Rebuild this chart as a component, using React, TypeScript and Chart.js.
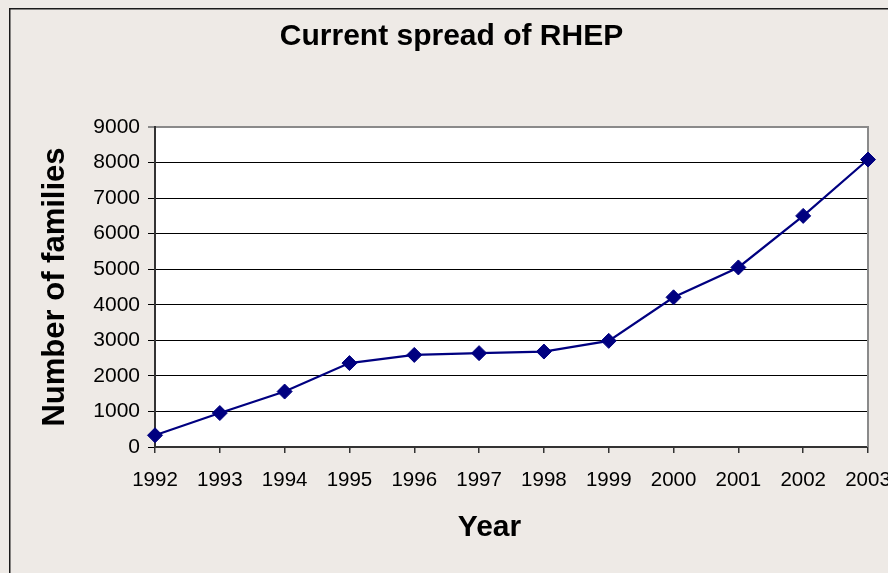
import React, { useEffect, useRef } from 'react';
import { Chart, registerables } from 'chart.js';

Chart.register(...registerables);

const years = ['1992', '1993', '1994', '1995', '1996', '1997', '1998', '1999', '2000', '2001', '2002', '2003'];
const families = [330, 955, 1560, 2360, 2590, 2640, 2685, 2985, 4210, 5050, 6500, 8085];
const yTicks = [0, 1000, 2000, 3000, 4000, 5000, 6000, 7000, 8000, 9000];
const chartTitle = 'Current spread of RHEP';
const xTitle = 'Year';
const yTitle = 'Number of families';

const FONT = '"Liberation Sans", Arial, Helvetica, sans-serif';
const W = 888;
const H = 573;

const framePlugin = {
  id: 'frame',
  beforeDraw(chart: any) {
    const { ctx, width, height, chartArea: a } = chart;
    ctx.save();
    ctx.fillStyle = '#EEEAE6';
    ctx.fillRect(0, 0, width, height);
    ctx.strokeStyle = '#1a1a1a';
    ctx.lineWidth = 1.5;
    ctx.beginPath();
    ctx.moveTo(9.75, height + 5);
    ctx.lineTo(9.75, 8.75);
    ctx.lineTo(width + 5, 8.75);
    ctx.stroke();
    ctx.fillStyle = '#ffffff';
    ctx.fillRect(a.left, a.top, a.right - a.left, a.bottom - a.top);
    ctx.restore();
  },
  beforeDatasetsDraw(chart: any) {
    const { ctx, chartArea: a } = chart;
    ctx.save();
    ctx.strokeStyle = '#8a8a8a';
    ctx.lineWidth = 2;
    ctx.beginPath();
    ctx.moveTo(a.right, a.top - 1);
    ctx.lineTo(a.right, a.bottom);
    ctx.stroke();
    ctx.restore();
  },
  afterDraw(chart: any) {
    // x-axis title, centred a little left of the plot centre as in the original
    const { ctx, chartArea: a, height } = chart;
    ctx.save();
    ctx.fillStyle = '#000';
    ctx.font = `bold 30px ${FONT}`;
    ctx.textAlign = 'center';
    ctx.textBaseline = 'middle';
    const cx = (a.left + a.right) / 2 - 22;
    ctx.fillText(xTitle, cx, height - 45);
    ctx.restore();
  },
};

export default function App() {
  const ref = useRef<HTMLCanvasElement | null>(null);

  useEffect(() => {
    if (!ref.current) return;
    Chart.defaults.font.family = FONT;
    Chart.defaults.color = '#000';
    const chart = new Chart(ref.current, {
      type: 'line',
      data: {
        labels: years,
        datasets: [
          {
            data: families,
            borderColor: '#000080',
            backgroundColor: '#000080',
            borderWidth: 2.2,
            tension: 0,
            pointStyle: 'rectRot',
            pointRadius: 7.5,
            pointHoverRadius: 7.5,
            pointBackgroundColor: '#000080',
            pointBorderColor: '#000080',
            pointBorderWidth: 1,
            clip: false as any,
          },
        ],
      },
      plugins: [framePlugin],
      options: {
        responsive: false,
        animation: false,
        layout: { padding: { left: 35, right: 20, top: 0, bottom: 0 } },
        plugins: {
          legend: { display: false },
          tooltip: { enabled: false },
          title: {
            display: true,
            text: chartTitle,
            color: '#000',
            font: { size: 30, weight: 'bold', family: FONT },
            padding: { top: 19, bottom: 72 },
          },
        },
        scales: {
          x: {
            type: 'category',
            offset: false,
            afterFit: (s: any) => {
              s.height = 126;
              s.paddingRight = 0;
              s.paddingLeft = 0;
            },
            grid: {
              drawOnChartArea: false,
              drawTicks: true,
              tickLength: 6,
              color: '#333',
              lineWidth: 1.5,
            },
            border: { display: true, color: '#333', width: 2 },
            ticks: {
              color: '#000',
              font: { size: 20.5, family: FONT },
              padding: 15,
              maxRotation: 0,
              autoSkip: false,
            },
            title: { display: false, text: xTitle },
          },
          y: {
            min: 0,
            max: 9000,
            afterBuildTicks: (s: any) => {
              s.ticks = yTicks.map((v) => ({ value: v }));
            },
            afterFit: (s: any) => {
              s.width = 120;
            },
            grid: {
              drawOnChartArea: true,
              drawTicks: true,
              tickLength: 7,
              color: (c: any) => (c.tick && c.tick.value === 9000 ? '#8a8a8a' : '#000'),
              lineWidth: (c: any) => (c.tick && c.tick.value === 9000 ? 2 : 1),
            },
            border: { display: true, color: '#333', width: 2 },
            ticks: {
              color: '#000',
              font: { size: 21, family: FONT },
              padding: 8,
              callback: (v: any) => String(v),
            },
            title: {
              display: true,
              text: yTitle,
              color: '#000',
              font: { size: 31, weight: 'bold', family: FONT },
              padding: { top: 2, bottom: 0 },
            },
          },
        },
      } as any,
    });
    return () => chart.destroy();
  }, []);

  return (
    <div style={{ position: 'absolute', left: 0, top: 0, width: W, height: H }}>
      <canvas ref={ref} width={W} height={H} style={{ display: 'block', width: W, height: H }} />
    </div>
  );
}
